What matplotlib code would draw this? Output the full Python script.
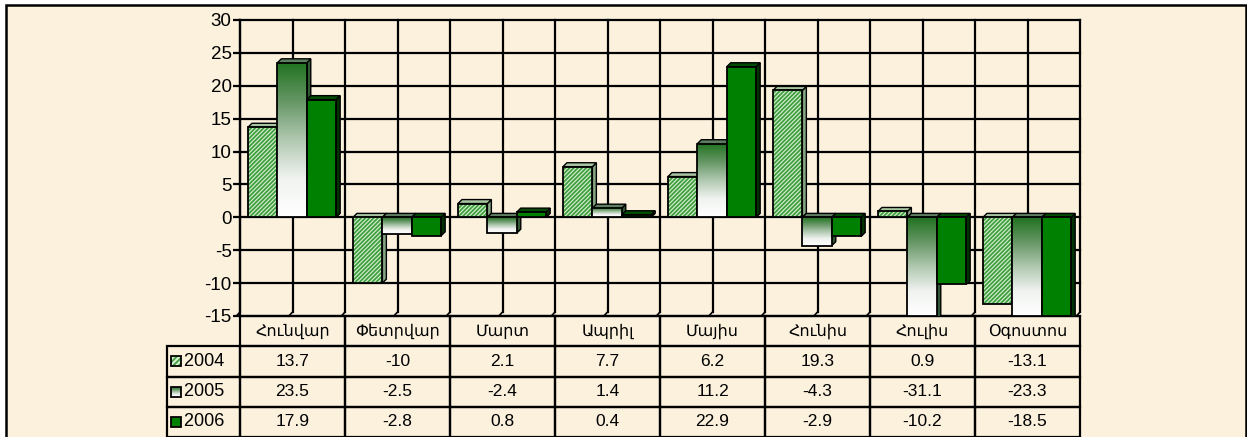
import matplotlib.pyplot as plt
import numpy as np
from matplotlib.patches import Rectangle, Polygon
from matplotlib.colors import LinearSegmentedColormap

plt.rcParams['font.family'] = ['Liberation Sans', 'DejaVu Sans']
plt.rcParams['hatch.linewidth'] = 1.3
plt.rcParams['axes.unicode_minus'] = False

months = ['Հունվար', 'Փետրվար', 'Մարտ', 'Ապրիլ', 'Մայիս', 'Հունիս', 'Հուլիս', 'Օգոստոս']
years = ['2004', '2005', '2006']
v2004 = [13.7, -10, 2.1, 7.7, 6.2, 19.3, 0.9, -13.1]
v2005 = [23.5, -2.5, -2.4, 1.4, 11.2, -4.3, -31.1, -23.3]
v2006 = [17.9, -2.8, 0.8, 0.4, 22.9, -2.9, -10.2, -18.5]
series = [v2004, v2005, v2006]

W, H = 1247, 437
YMIN, YMAX = -15, 30
BG = '#FBF1DD'

grad_cmap = LinearSegmentedColormap.from_list(
    'g', ['#ffffff', '#f0f3f0', '#b0c8b0', '#659665', '#207220'])
grad = np.linspace(0, 1, 256).reshape(-1, 1)

fig = plt.figure(figsize=(W / 100, H / 100), dpi=100)
fig.patch.set_facecolor('white')
fig.add_artist(Rectangle((6 / W, -0.1), 1240 / W, 1.1 - 5 / H, transform=fig.transFigure,
                         facecolor=BG, edgecolor='black', lw=1.8, zorder=-5))

ax = fig.add_axes([240 / W, 1 - 316 / H, 840 / W, 296 / H])
ax.patch.set_alpha(0)
for s in ['top', 'right', 'bottom']:
    ax.spines[s].set_visible(False)
ax.spines['left'].set_linewidth(1.6)

# grid (back wall)
for y in range(YMIN, YMAX + 1, 5):
    ax.plot([0, 8], [y, y], color='black', lw=1.6, zorder=1, clip_on=False)
for i in range(17):
    ax.plot([i / 2, i / 2], [YMIN + 0.6, YMAX], color='black', lw=1.6, zorder=1, clip_on=False)
    ax.plot([i / 2, i / 2 - 0.035], [YMIN + 0.6, YMIN], color='black', lw=1.2, zorder=1, clip_on=False)

bw = 0.28
start = 0.076
dx, dy = 0.038, 0.6
front_col = ['#d8efd2', None, '#008000']
hatch_col = '#3f9f3f'
top_col = ['#a9c6a3', '#5e7f62', '#004c00']
side_col = ['#86a582', '#2f5a34', '#003300']

z = 3
for i in range(8):
    for j, s in enumerate(series):
        v = s[i]
        x0 = i + start + j * bw
        x1 = x0 + bw
        lo, hi = (0, v) if v >= 0 else (max(v, YMIN), 0)
        # side face
        side_lo = lo if lo > YMIN else YMIN - dy
        ax.add_patch(Polygon([(x1, side_lo), (x1, hi), (x1 + dx, hi + dy), (x1 + dx, side_lo + dy)],
                             closed=True, facecolor=side_col[j], edgecolor='black', lw=1.0, zorder=z))
        # top face
        ax.add_patch(Polygon([(x0, hi), (x0 + dx, hi + dy), (x1 + dx, hi + dy), (x1, hi)],
                             closed=True, facecolor=top_col[j], edgecolor='black', lw=1.0, zorder=z + 0.1))
        # front face
        if j == 0:
            ax.add_patch(Rectangle((x0, lo), bw, hi - lo, facecolor=front_col[0], edgecolor=hatch_col,
                                   lw=0, hatch='////////', zorder=z + 0.2))
        elif j == 1:
            ax.imshow(grad, extent=(x0, x1, lo, hi), origin='lower', cmap=grad_cmap,
                      aspect='auto', zorder=z + 0.2)
        else:
            ax.add_patch(Rectangle((x0, lo), bw, hi - lo, facecolor=front_col[2], lw=0, zorder=z + 0.2))
        ax.add_patch(Rectangle((x0, lo), bw, hi - lo, facecolor='none', edgecolor='black',
                               lw=1.3, zorder=z + 0.3))
        z += 1

ax.set_xlim(0, 8)
ax.set_ylim(YMIN, YMAX)
ax.set_xticks([])
ax.set_yticks(range(YMIN, YMAX + 1, 5))
ax.tick_params(axis='y', length=5, width=1.6, labelsize=13.5, pad=1)

# data table
rows_h = 121 / 296
cell_text = [months] + [['%g' % v for v in s] for s in series]
tbl = ax.table(cellText=cell_text, cellLoc='center', bbox=[0, -rows_h, 1, rows_h])
tbl.auto_set_font_size(False)
for (r, c), cell in tbl.get_celld().items():
    cell.set_facecolor('none')
    cell.set_linewidth(1.6)
    cell.get_text().set_fontsize(11.5 if r == 0 else 12.5)

lw_ax = 73 / 840
tbl2 = ax.table(cellText=[['  ' + y] for y in years], cellLoc='left',
                bbox=[-lw_ax, -rows_h, lw_ax, rows_h * 3 / 4])
tbl2.auto_set_font_size(False)
for cell in tbl2.get_celld().values():
    cell.set_facecolor('none')
    cell.set_linewidth(1.6)
    cell.get_text().set_fontsize(13)

# legend keys
rh = rows_h / 4
kx0 = -69 / 840 * 8
kw = 10 / 840 * 8
kh = 10 / 296 * 45
for r in range(3):
    yc = YMIN + (-(r + 1.5) * rh) * 45
    y0 = yc - kh / 2
    if r == 0:
        ax.add_patch(Rectangle((kx0, y0), kw, kh, facecolor=front_col[0], edgecolor=hatch_col,
                               lw=0, hatch='//////', clip_on=False, zorder=5))
    elif r == 1:
        ax.imshow(grad, extent=(kx0, kx0 + kw, y0, y0 + kh), origin='lower', cmap=grad_cmap,
                  aspect='auto', clip_on=False, zorder=5)
    else:
        ax.add_patch(Rectangle((kx0, y0), kw, kh, facecolor=front_col[2], lw=0, clip_on=False, zorder=5))
    ax.add_patch(Rectangle((kx0, y0), kw, kh, facecolor='none', edgecolor='black', lw=1.3,
                           clip_on=False, zorder=6))

ax.set_xlim(0, 8)
ax.set_ylim(YMIN, YMAX)

fig.savefig('out.png', dpi=100, facecolor=fig.get_facecolor())
